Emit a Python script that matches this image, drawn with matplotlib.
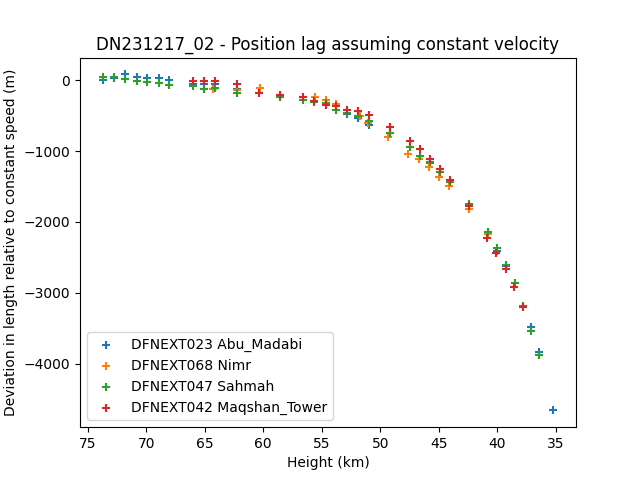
import numpy as np
import matplotlib
matplotlib.use('Agg')
import matplotlib.pyplot as plt

# Data
h_abu = [73.74, 72.77, 71.83, 70.83, 69.92, 68.95, 68.04, 66.04, 65.07, 64.13, 62.27,
         52.83, 51.88, 50.94, 49.14, 47.43, 45.72, 44.0, 42.4, 40.0, 39.21, 37.07, 36.41, 35.19]
v_abu = [4, 35, 85, 42, 28, 28, 4, -50, -56, -56, -127,
         -469, -531, -634, -746, -944, -1162, -1437, -1760, -2408, -2625, -3479, -3831, -4662]

h_nimr = [64.27, 62.27, 60.27, 55.56, 54.6, 53.77, 51.71, 51.07, 49.34, 47.62, 46.69,
          45.8, 44.97, 44.12, 42.4, 40.78]
v_nimr = [-127, -141, -103, -239, -272, -328, -497, -595, -803, -1046, -1117,
          -1230, -1366, -1486, -1821, -2173]

h_sahmah = [73.74, 72.77, 71.83, 70.83, 69.92, 68.95, 68.04, 66.04, 65.07, 64.13, 62.27,
            58.54, 56.6, 55.65, 54.67, 53.77, 52.83, 51.88, 50.94, 49.14, 47.43, 46.58,
            45.72, 44.86, 44.0, 42.4, 40.78, 40.0, 39.21, 38.44, 37.78, 37.07, 36.41]
v_sahmah = [42, 42, 14, -4, -28, -42, -66, -80, -127, -113, -173,
            -239, -282, -300, -320, -413, -460, -497, -577, -742, -939, -1061,
            -1151, -1292, -1432, -1742, -2141, -2370, -2610, -2863, -3180, -3535, -3873]

h_maq = [66.04, 65.07, 64.13, 62.27, 60.36, 58.54, 56.6, 55.65, 54.67, 53.77, 52.83,
         51.88, 50.94, 49.14, 47.43, 46.58, 45.72, 44.86, 44.0, 42.4, 40.87, 40.13,
         39.21, 38.53, 37.78]
v_maq = [-10, -10, -10, -56, -183, -201, -235, -296, -342, -356, -413,
         -427, -483, -662, -849, -976, -1117, -1258, -1413, -1775, -2221, -2441,
         -2658, -2925, -3207]

labels = ['DFNEXT023 Abu_Madabi', 'DFNEXT068 Nimr', 'DFNEXT047 Sahmah', 'DFNEXT042 Maqshan_Tower']

fig, ax = plt.subplots(figsize=(6.4, 4.8), dpi=100)
ax.scatter(h_abu, v_abu, marker='+', label=labels[0])
ax.scatter(h_nimr, v_nimr, marker='+', label=labels[1])
ax.scatter(h_sahmah, v_sahmah, marker='+', label=labels[2])
ax.scatter(h_maq, v_maq, marker='+', label=labels[3])
ax.invert_xaxis()
ax.set_title('DN231217_02 - Position lag assuming constant velocity')
ax.set_xlabel('Height (km)')
ax.set_ylabel('Deviation in length relative to constant speed (m)')
ax.legend(loc='lower left')
fig.savefig('out.png')
